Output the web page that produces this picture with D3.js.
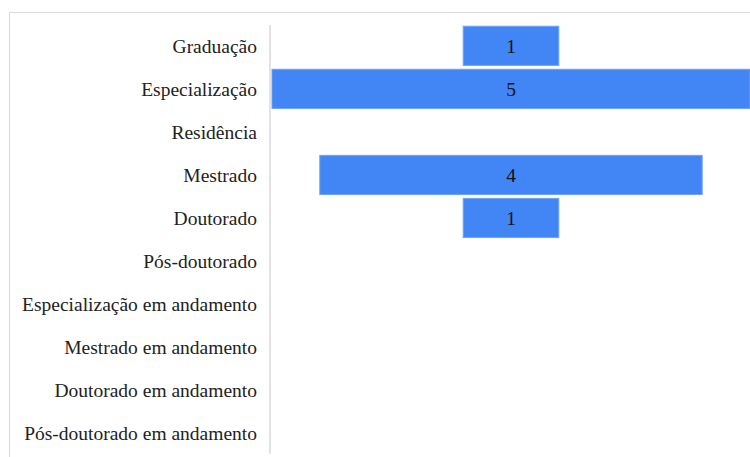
<!DOCTYPE html>
<html>
<head>
<meta charset="utf-8">
<script src="https://cdn.jsdelivr.net/npm/d3@7"></script>
<style>
  body { margin: 0; background: #fff; }
  svg { display: block; }
</style>
</head>
<body>
<svg id="chart" width="750" height="457"></svg>
<script>
let categories = ["Graduação", "Especialização", "Residência", "Mestrado", "Doutorado",
  "Pós-doutorado", "Especialização em andamento", "Mestrado em andamento",
  "Doutorado em andamento", "Pós-doutorado em andamento"];
let counts = [1, 5, 0, 4, 1, 0, 0, 0, 0, 0];

let width = 750, height = 457;
let axisX = 270, right = 750;
let center = (axisX + 2 + right) / 2;
let fontFamily = "'Liberation Serif', 'Times New Roman', Times, serif";

let svg = d3.select('#chart');

// light frame
svg.append('path')
  .attr('d', 'M9.5,' + height + 'V12.5H' + width)
  .attr('fill', 'none')
  .attr('stroke', '#dadada');

let y = d3.scaleBand()
  .domain(categories)
  .range([24.5, 454.5])
  .paddingInner(0.09)
  .paddingOuter(0.04);

let half = d3.scaleLinear()
  .domain([0, 5])
  .range([0, (right - axisX - 2) / 2]);

let data = categories.map(function (c, i) { return { name: c, value: counts[i] }; });

svg.append('line')
  .attr('x1', axisX).attr('x2', axisX)
  .attr('y1', 25).attr('y2', 454)
  .attr('stroke', '#e3e3e3')
  .attr('stroke-width', 2);

svg.selectAll('.label')
  .data(data)
  .enter().append('text')
  .attr('class', 'label')
  .attr('x', 257)
  .attr('y', function (d) { return y(d.name) + y.bandwidth() / 2; })
  .attr('dy', '0.36em')
  .attr('text-anchor', 'end')
  .style('font-family', fontFamily)
  .style('font-size', '19.5px')
  .attr('fill', '#222')
  .text(function (d) { return d.name; });

let bars = data.filter(function (d) { return d.value > 0; });

svg.selectAll('.bar')
  .data(bars)
  .enter().append('rect')
  .attr('class', 'bar')
  .attr('x', function (d) { return center - half(d.value); })
  .attr('y', function (d) { return y(d.name); })
  .attr('width', function (d) { return 2 * half(d.value); })
  .attr('height', y.bandwidth())
  .attr('fill', '#4285f4')
  .attr('stroke', '#6fa3f7')
  .attr('stroke-width', 1);

svg.selectAll('.value')
  .data(bars)
  .enter().append('text')
  .attr('class', 'value')
  .attr('x', center)
  .attr('y', function (d) { return y(d.name) + y.bandwidth() / 2; })
  .attr('dy', '0.36em')
  .attr('text-anchor', 'middle')
  .style('font-family', fontFamily)
  .style('font-size', '19.5px')
  .attr('fill', '#111')
  .text(function (d) { return d.value; });
</script>
</body>
</html>
